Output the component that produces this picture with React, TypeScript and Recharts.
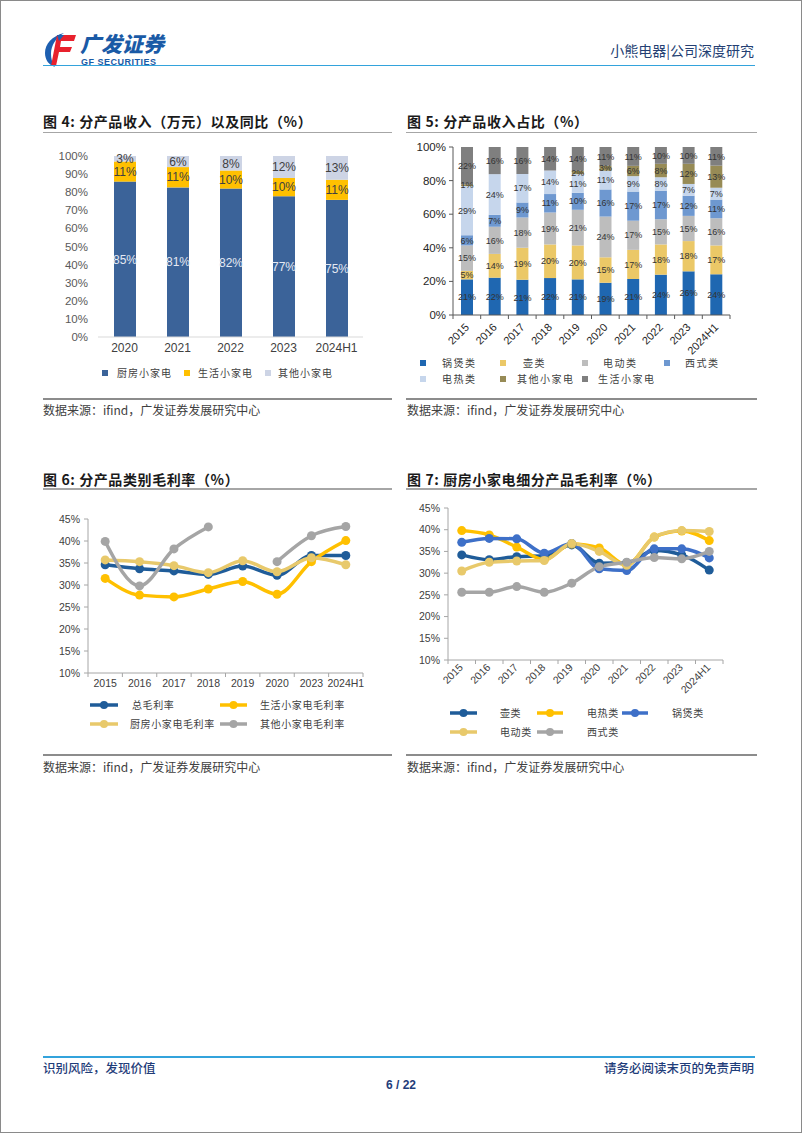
import React from 'react';
import { BarChart, Bar, XAxis, YAxis, LabelList, Legend, ComposedChart, Line } from 'recharts';

// ---------- DATA ----------
const c4Years = ['2020', '2021', '2022', '2023', '2024H1'];
const c4Kitchen = [85, 81, 82, 77, 75];
const c4Life = [11, 11, 10, 10, 11];
const c4Other = [3, 6, 8, 12, 13];
const c4Names = ['厨房小家电', '生活小家电', '其他小家电'];
const c4Colors = ['#3B6399', '#FFC000', '#CDD4E5'];
const pctTicks = [0, 0.1, 0.2, 0.3, 0.4, 0.5, 0.6, 0.7, 0.8, 0.9, 1];

const c5Years = ['2015', '2016', '2017', '2018', '2019', '2020', '2021', '2022', '2023', '2024H1'];
const c5Pot = [21, 22, 21, 22, 21, 19, 21, 24, 26, 24];
const c5Kettle = [5, 14, 19, 20, 20, 15, 17, 18, 18, 17];
const c5Motor = [15, 16, 18, 19, 21, 24, 17, 15, 15, 16];
const c5Western = [6, 7, 9, 11, 10, 16, 17, 17, 12, 11];
const c5Heat = [29, 24, 17, 14, 11, 11, 9, 8, 7, 7];
const c5OtherSmall = [1, 0, 0, 0, 2, 3, 6, 8, 12, 13];
const c5LifeSmall = [22, 16, 16, 14, 14, 11, 11, 10, 10, 11];
const c5Names = ['锅煲类', '壶类', '电动类', '西式类', '电热类', '其他小家电', '生活小家电'];
const c5Colors = ['#1F67B1', '#EBC867', '#BDBDBD', '#6E98D0', '#C6D6EC', '#978B56', '#7F7F7F'];
const c5Keys = ['pot', 'kettle', 'motor', 'western', 'heat', 'otherSmall', 'lifeSmall'];

const c6Years = ['2015', '2016', '2017', '2018', '2019', '2020', '2023', '2024H1'];
const c6Total = [34.6, 33.7, 33.2, 32.4, 34.3, 32.2, 36.7, 36.7];
const c6Life = [31.5, 27.7, 27.3, 29.1, 30.8, 27.9, 35.3, 40.1];
const c6Kitchen = [35.7, 35.3, 34.4, 32.8, 35.5, 33.0, 36.2, 34.6];
const c6Other = [39.9, 29.8, 38.2, 43.2, null, 35.3, 41.2, 43.3];
const c6Names = ['总毛利率', '生活小家电毛利率', '厨房小家电毛利率', '其他小家电毛利率'];
const c6Colors = ['#1F5C99', '#FFC000', '#E8C96B', '#A5A5A5'];
const marginTicks = [10, 15, 20, 25, 30, 35, 40, 45];

const c7Years = ['2015', '2016', '2017', '2018', '2019', '2020', '2021', '2022', '2023', '2024H1'];
const c7Kettle = [34.2, 33.1, 33.8, 34.0, 36.5, 32.3, 32.4, 35.2, 34.2, 30.7];
const c7Heat = [39.8, 38.8, 36.0, 33.1, 36.7, 35.8, 31.9, 38.3, 39.7, 37.5];
const c7Pot = [37.1, 38.0, 37.9, 34.6, 36.8, 31.0, 30.6, 35.6, 35.6, 33.5];
const c7Motor = [30.5, 32.5, 32.8, 32.9, 36.8, 35.0, 31.8, 38.3, 39.8, 39.6];
const c7Western = [25.6, 25.6, 26.9, 25.6, 27.7, 31.5, 32.5, 33.6, 33.3, 35.0];
const c7Names = ['壶类', '电热类', '锅煲类', '电动类', '西式类'];
const c7Colors = ['#1F5C99', '#FFC000', '#3E70C8', '#E8C96B', '#A5A5A5'];

// ---------- built tables ----------
const c4Data = c4Years.map((y, i) => ({ year: y, kitchen: c4Kitchen[i], life: c4Life[i], other: c4Other[i] }));
const c5Data = c5Years.map((y, i) => ({
  year: y, pot: c5Pot[i], kettle: c5Kettle[i], motor: c5Motor[i], western: c5Western[i],
  heat: c5Heat[i], otherSmall: c5OtherSmall[i], lifeSmall: c5LifeSmall[i],
}));
const c6Data = c6Years.map((y, i) => ({ year: y, total: c6Total[i], life: c6Life[i], kitchen: c6Kitchen[i], other: c6Other[i] }));
const c7Data = c7Years.map((y, i) => ({ year: y, kettle: c7Kettle[i], heat: c7Heat[i], pot: c7Pot[i], motor: c7Motor[i], western: c7Western[i] }));

const CJK = '"Noto Sans CJK SC", "Liberation Sans", sans-serif';
const NUM = '"Liberation Sans", Arial, "Noto Sans CJK SC", sans-serif';
const pctFmt = (v: number) => `${Math.round(v * 100)}%`;
const intPct = (v: number) => `${v}%`;

// ---------- helpers ----------
const Txt = ({ x, y, size, color = '#333', weight = 400, anchor = 'start', family = CJK, spacing = 0, children }: any) => {
  const style: any = {
    position: 'absolute', top: y - size * 0.75, fontSize: size, lineHeight: `${size * 1.5}px`,
    color, fontWeight: weight, fontFamily: family, whiteSpace: 'nowrap', letterSpacing: spacing,
  };
  if (anchor === 'start') style.left = x;
  else if (anchor === 'end') style.right = 802 - x;
  else { style.left = x; style.transform = 'translateX(-50%)'; }
  return <div style={style}>{children}</div>;
};

const HLine = ({ x1, x2, y, color, w }: any) => (
  <div style={{ position: 'absolute', left: x1, top: y - w / 2, width: x2 - x1, height: w, background: color }} />
);

const LegText = ({ x, y, text, size = 10, spacing = 1 }: any) => (
  <div style={{ position: 'absolute', left: x, top: y - 8, lineHeight: '16px', fontSize: size, color: '#404040', fontFamily: CJK, whiteSpace: 'nowrap', letterSpacing: spacing }}>{text}</div>
);
const LegSquare = ({ cx, cy, color }: any) => (
  <div style={{ position: 'absolute', left: cx - 3, top: cy - 3, width: 6, height: 6, background: color }} />
);
const LegLine = ({ x1, x2, cy, color }: any) => (
  <svg style={{ position: 'absolute', left: x1, top: cy - 6 }} width={x2 - x1} height={12}>
    <line x1={0} x2={x2 - x1} y1={6} y2={6} stroke={color} strokeWidth={3.5} />
    <circle cx={(x2 - x1) / 2} cy={6} r={4} fill={color} />
  </svg>
);

// band tick: label + tick marks at band boundaries
const makeBandTick = (opts: { count: number; rotate: boolean; dx: number; dy: number; size: number; color: string; stroke: string; tickLen: number }) =>
  (props: any) => {
    const { x, y, payload, index } = props;
    const half = payload && typeof payload.offset === 'number' ? payload.offset : 0;
    const label = payload ? payload.value : '';
    const tx = x + opts.dx;
    const ty = y + opts.dy;
    return (
      <g>
        <line x1={x - half} x2={x - half} y1={y} y2={y + opts.tickLen} stroke={opts.stroke} strokeWidth={1} />
        {index === opts.count - 1 ? (
          <line x1={x + half} x2={x + half} y1={y} y2={y + opts.tickLen} stroke={opts.stroke} strokeWidth={1} />
        ) : null}
        <text
          x={tx} y={ty} textAnchor={opts.rotate ? 'end' : 'middle'} fontSize={opts.size} fill={opts.color}
          fontFamily={NUM} transform={opts.rotate ? `rotate(-45, ${tx}, ${ty})` : undefined}
        >{label}</text>
      </g>
    );
  };

// ---------- chart 4 ----------
const C4Legend = () => (
  <div style={{ position: 'relative', width: 340, height: 20 }}>
    {c4Names.map((n, i) => (
      <React.Fragment key={n}>
        <LegSquare cx={[65, 147, 228][i]} cy={10} color={c4Colors[i]} />
        <LegText x={[77, 158, 238][i]} y={10} text={n} size={10} spacing={1} />
      </React.Fragment>
    ))}
  </div>
);

const Chart4 = () => (
  <div style={{ position: 'absolute', left: 40, top: 140 }}>
    <BarChart width={340} height={250} data={c4Data} stackOffset="expand" margin={{ top: 16, right: 17, bottom: 33, left: 0 }}>
      <XAxis dataKey="year" interval={0} height={20} axisLine={{ stroke: '#D9D9D9' }} tickLine={false} tickSize={4} tickMargin={2}
        tick={{ fontSize: 12, fill: '#404040', fontFamily: NUM }} />
      <YAxis type="number" domain={[0, 1]} ticks={pctTicks} tickFormatter={pctFmt} width={58} axisLine={false} tickLine={false}
        tickSize={6} tickMargin={4} tick={{ fontSize: 11.5, fill: '#595959', fontFamily: NUM }} />
      <Bar dataKey="kitchen" stackId="s" fill={c4Colors[0]} barSize={22} isAnimationActive={false}>
        <LabelList dataKey="kitchen" position="center" formatter={intPct} fill="#E4E9F3" fontSize={12} fontFamily={NUM} />
      </Bar>
      <Bar dataKey="life" stackId="s" fill={c4Colors[1]} barSize={22} isAnimationActive={false}>
        <LabelList dataKey="life" position="center" formatter={intPct} fill="#404040" fontSize={12} fontFamily={NUM} />
      </Bar>
      <Bar dataKey="other" stackId="s" fill={c4Colors[2]} barSize={22} isAnimationActive={false}>
        <LabelList dataKey="other" position="center" formatter={intPct} fill="#404040" fontSize={12} fontFamily={NUM} />
      </Bar>
      <Legend layout="horizontal" verticalAlign="middle" align="center"
        wrapperStyle={{ left: 0, top: 223, width: 340, height: 20, bottom: 'auto' }} content={() => <C4Legend />} />
    </BarChart>
  </div>
);

// ---------- chart 5 ----------
const c5LegPos = [
  { cx: 23, tx: 42, cy: 9 }, { cx: 103, tx: 123, cy: 9 }, { cx: 185, tx: 203, cy: 9 }, { cx: 267, tx: 285, cy: 9 },
  { cx: 23, tx: 42, cy: 25 }, { cx: 103, tx: 117, cy: 25 }, { cx: 185, tx: 198, cy: 25 },
];
const C5Legend = () => (
  <div style={{ position: 'relative', width: 345, height: 34 }}>
    {c5Names.map((n, i) => (
      <React.Fragment key={n}>
        <LegSquare cx={c5LegPos[i].cx} cy={c5LegPos[i].cy} color={c5Colors[i]} />
        <LegText x={c5LegPos[i].tx} y={c5LegPos[i].cy} text={n} size={10} spacing={1.5} />
      </React.Fragment>
    ))}
  </div>
);
const c5Tick = makeBandTick({ count: c5Years.length, rotate: true, dx: 3, dy: 13, size: 11, color: '#262626', stroke: '#595959', tickLen: 4 });

const Chart5 = () => (
  <div style={{ position: 'absolute', left: 400, top: 140 }}>
    <BarChart width={345} height={250} data={c5Data} stackOffset="expand" margin={{ top: 7, right: 15, bottom: 35, left: 0 }}>
      <XAxis dataKey="year" interval={0} height={40} axisLine={{ stroke: '#595959' }} tickLine={false} tickSize={0} tickMargin={0}
        tick={c5Tick} />
      <YAxis type="number" domain={[0, 1]} ticks={pctTicks} tickFormatter={pctFmt} width={53} axisLine={{ stroke: '#595959' }}
        tickLine={{ stroke: '#595959' }} tickSize={4} tickMargin={3} tick={{ fontSize: 11.5, fill: '#262626', fontFamily: NUM }} />
      {c5Keys.map((k, i) => (
        <Bar key={k} dataKey={k} stackId="s" fill={c5Colors[i]} barSize={12} isAnimationActive={false}>
          <LabelList dataKey={k} position="center" formatter={intPct} fill="#333333" fontSize={9} fontFamily={NUM} />
        </Bar>
      ))}
      <Legend layout="horizontal" verticalAlign="middle" align="center"
        wrapperStyle={{ left: 0, top: 214, width: 345, height: 34, bottom: 'auto' }} content={() => <C5Legend />} />
    </BarChart>
  </div>
);

// ---------- chart 6 ----------
const c6LegPos = [
  { x1: 50, x2: 78, tx: 92, cy: 10 }, { x1: 180, x2: 207, tx: 220, cy: 10 },
  { x1: 50, x2: 78, tx: 90, cy: 29 }, { x1: 180, x2: 207, tx: 220, cy: 29 },
];
const C6Legend = () => (
  <div style={{ position: 'relative', width: 340, height: 40 }}>
    {c6Names.map((n, i) => (
      <React.Fragment key={n}>
        <LegLine x1={c6LegPos[i].x1} x2={c6LegPos[i].x2} cy={c6LegPos[i].cy} color={c6Colors[i]} />
        <LegText x={c6LegPos[i].tx} y={c6LegPos[i].cy} text={n} size={10} spacing={0.6} />
      </React.Fragment>
    ))}
  </div>
);
const c6Tick = makeBandTick({ count: c6Years.length, rotate: false, dx: 0, dy: 14, size: 10.5, color: '#404040', stroke: '#A6A6A6', tickLen: 4 });
const c6Keys = ['total', 'life', 'kitchen', 'other'];

const Chart6 = () => (
  <div style={{ position: 'absolute', left: 40, top: 505 }}>
    <ComposedChart width={340} height={240} data={c6Data} margin={{ top: 14, right: 17, bottom: 42, left: 0 }}>
      <XAxis dataKey="year" scale="band" interval={0} height={30} axisLine={{ stroke: '#A6A6A6' }} tickLine={false} tickSize={0} tickMargin={0}
        tick={c6Tick} />
      <YAxis type="number" domain={[10, 45]} ticks={marginTicks} tickFormatter={intPct} width={48} axisLine={{ stroke: '#A6A6A6' }}
        tickLine={{ stroke: '#A6A6A6' }} tickSize={4} tickMargin={4} tick={{ fontSize: 10.5, fill: '#404040', fontFamily: NUM }} />
      {c6Keys.map((k, i) => (
        <Line key={k} dataKey={k} type="monotone" stroke={c6Colors[i]} strokeWidth={3.5}
          dot={{ r: 4.5, fill: c6Colors[i], stroke: c6Colors[i], strokeWidth: 0 }} isAnimationActive={false} />
      ))}
      <Legend layout="horizontal" verticalAlign="middle" align="center"
        wrapperStyle={{ left: 0, top: 190, width: 340, height: 40, bottom: 'auto' }} content={() => <C6Legend />} />
    </ComposedChart>
  </div>
);

// ---------- chart 7 ----------
const c7LegPos = [
  { x1: 50, x2: 77, tx: 100, cy: 10 }, { x1: 137, x2: 163, tx: 187, cy: 10 }, { x1: 222, x2: 248, tx: 272, cy: 10 },
  { x1: 50, x2: 77, tx: 100, cy: 29 }, { x1: 137, x2: 163, tx: 187, cy: 29 },
];
const C7Legend = () => (
  <div style={{ position: 'relative', width: 345, height: 40 }}>
    {c7Names.map((n, i) => (
      <React.Fragment key={n}>
        <LegLine x1={c7LegPos[i].x1} x2={c7LegPos[i].x2} cy={c7LegPos[i].cy} color={c7Colors[i]} />
        <LegText x={c7LegPos[i].tx} y={c7LegPos[i].cy} text={n} size={10} spacing={0.6} />
      </React.Fragment>
    ))}
  </div>
);
const c7Tick = makeBandTick({ count: c7Years.length, rotate: true, dx: 2, dy: 8, size: 10.5, color: '#404040', stroke: '#A6A6A6', tickLen: 4 });
const c7Keys = ['kettle', 'heat', 'pot', 'motor', 'western'];

const Chart7 = () => (
  <div style={{ position: 'absolute', left: 400, top: 495 }}>
    <ComposedChart width={345} height={255} data={c7Data} margin={{ top: 13, right: 22, bottom: 45, left: 0 }}>
      <XAxis dataKey="year" scale="band" interval={0} height={45} axisLine={{ stroke: '#A6A6A6' }} tickLine={false} tickSize={0} tickMargin={0}
        tick={c7Tick} />
      <YAxis type="number" domain={[10, 45]} ticks={marginTicks} tickFormatter={intPct} width={48} axisLine={{ stroke: '#A6A6A6' }}
        tickLine={{ stroke: '#A6A6A6' }} tickSize={4} tickMargin={4} tick={{ fontSize: 10.5, fill: '#404040', fontFamily: NUM }} />
      {c7Keys.map((k, i) => (
        <Line key={k} dataKey={k} type="monotone" stroke={c7Colors[i]} strokeWidth={3.5}
          dot={{ r: 4.5, fill: c7Colors[i], stroke: c7Colors[i], strokeWidth: 0 }} isAnimationActive={false} />
      ))}
      <Legend layout="horizontal" verticalAlign="middle" align="center"
        wrapperStyle={{ left: 0, top: 208, width: 345, height: 40, bottom: 'auto' }} content={() => <C7Legend />} />
    </ComposedChart>
  </div>
);

// ---------- logo ----------
const Logo = () => (
  <div style={{ position: 'absolute', left: 42, top: 30 }}>
    <svg width={40} height={38} style={{ position: 'absolute', left: 0, top: 0 }}>
      <path d="M 22 3 C 10 6 3 14 3 23 C 3 30 7 35 13 37 C 10 33 9 28 9 24 C 9 15 14 8 22 3 Z" fill="#1E5FB0" />
      <path d="M 15 5 L 34 5 L 32 11 L 19 11 L 18 17 L 30 17 L 28 22 L 17 22 L 14 36 L 9 36 Z" fill="#E8212D" />
      <path d="M 15 5 L 22 5 L 17 11 Z" fill="#1E5FB0" />
    </svg>
    <div style={{ position: 'absolute', left: 38, top: 3, fontSize: 21, fontWeight: 900, color: '#1A5AA6', fontFamily: CJK, lineHeight: '21px', whiteSpace: 'nowrap', fontStyle: 'italic' }}>广发证券</div>
    <div style={{ position: 'absolute', left: 39, top: 27.5, fontSize: 9, fontWeight: 700, color: '#1A5AA6', fontFamily: NUM, lineHeight: '9px', whiteSpace: 'nowrap', letterSpacing: 0.5 }}>GF SECURITIES</div>
  </div>
);

export default function App() {
  return (
    <div style={{ position: 'absolute', left: 0, top: 0, width: 802, height: 1133, background: '#fff', overflow: 'hidden', fontFamily: CJK }}>
      <Logo />
      <Txt x={754} y={50} size={14} color="#243F73" anchor="end">小熊电器|公司深度研究</Txt>
      <HLine x1={43} x2={755} y={65.5} color="#33A3DC" w={1.5} />

      <Txt x={43} y={121} size={14} color="#1a1a1a" weight={700} spacing={0.6}>图 4: 分产品收入（万元）以及同比（%）</Txt>
      <Txt x={407} y={121} size={14} color="#1a1a1a" weight={700} spacing={0.6}>图 5: 分产品收入占比（%）</Txt>
      <HLine x1={43} x2={392} y={132.5} color="#A6A6A6" w={1.5} />
      <HLine x1={406} x2={757} y={132.5} color="#A6A6A6" w={1.5} />

      <Chart4 />
      <Chart5 />

      <HLine x1={43} x2={392} y={399} color="#8C8C8C" w={2} />
      <HLine x1={406} x2={757} y={399} color="#8C8C8C" w={2} />
      <Txt x={43} y={410} size={12} color="#404040">数据来源：ifind，广发证券发展研究中心</Txt>
      <Txt x={407} y={410} size={12} color="#404040">数据来源：ifind，广发证券发展研究中心</Txt>

      <Txt x={43} y={479} size={14} color="#1a1a1a" weight={700} spacing={0.6}>图 6: 分产品类别毛利率（%）</Txt>
      <Txt x={407} y={479} size={14} color="#1a1a1a" weight={700} spacing={0.6}>图 7: 厨房小家电细分产品毛利率（%）</Txt>
      <HLine x1={43} x2={392} y={489} color="#A6A6A6" w={1.5} />
      <HLine x1={406} x2={757} y={489} color="#A6A6A6" w={1.5} />

      <Chart6 />
      <Chart7 />

      <HLine x1={43} x2={392} y={755} color="#8C8C8C" w={2} />
      <HLine x1={406} x2={757} y={755} color="#8C8C8C" w={2} />
      <Txt x={43} y={767} size={12} color="#404040">数据来源：ifind，广发证券发展研究中心</Txt>
      <Txt x={407} y={767} size={12} color="#404040">数据来源：ifind，广发证券发展研究中心</Txt>

      <HLine x1={43} x2={755} y={1056.5} color="#33A3DC" w={2} />
      <Txt x={43} y={1068} size={12.5} color="#1F3D7A" weight={500}>识别风险，发现价值</Txt>
      <Txt x={754} y={1068} size={12.5} color="#1F3D7A" weight={500} anchor="end">请务必阅读末页的免责声明</Txt>
      <Txt x={401} y={1085} size={12} color="#1F3D7A" weight={700} anchor="middle" family={NUM}>6 / 22</Txt>

      <div style={{ position: 'absolute', left: 0, top: 0, width: 802, height: 1133, boxSizing: 'border-box', border: '1px solid #8A8A8A', pointerEvents: 'none' }} />
    </div>
  );
}
